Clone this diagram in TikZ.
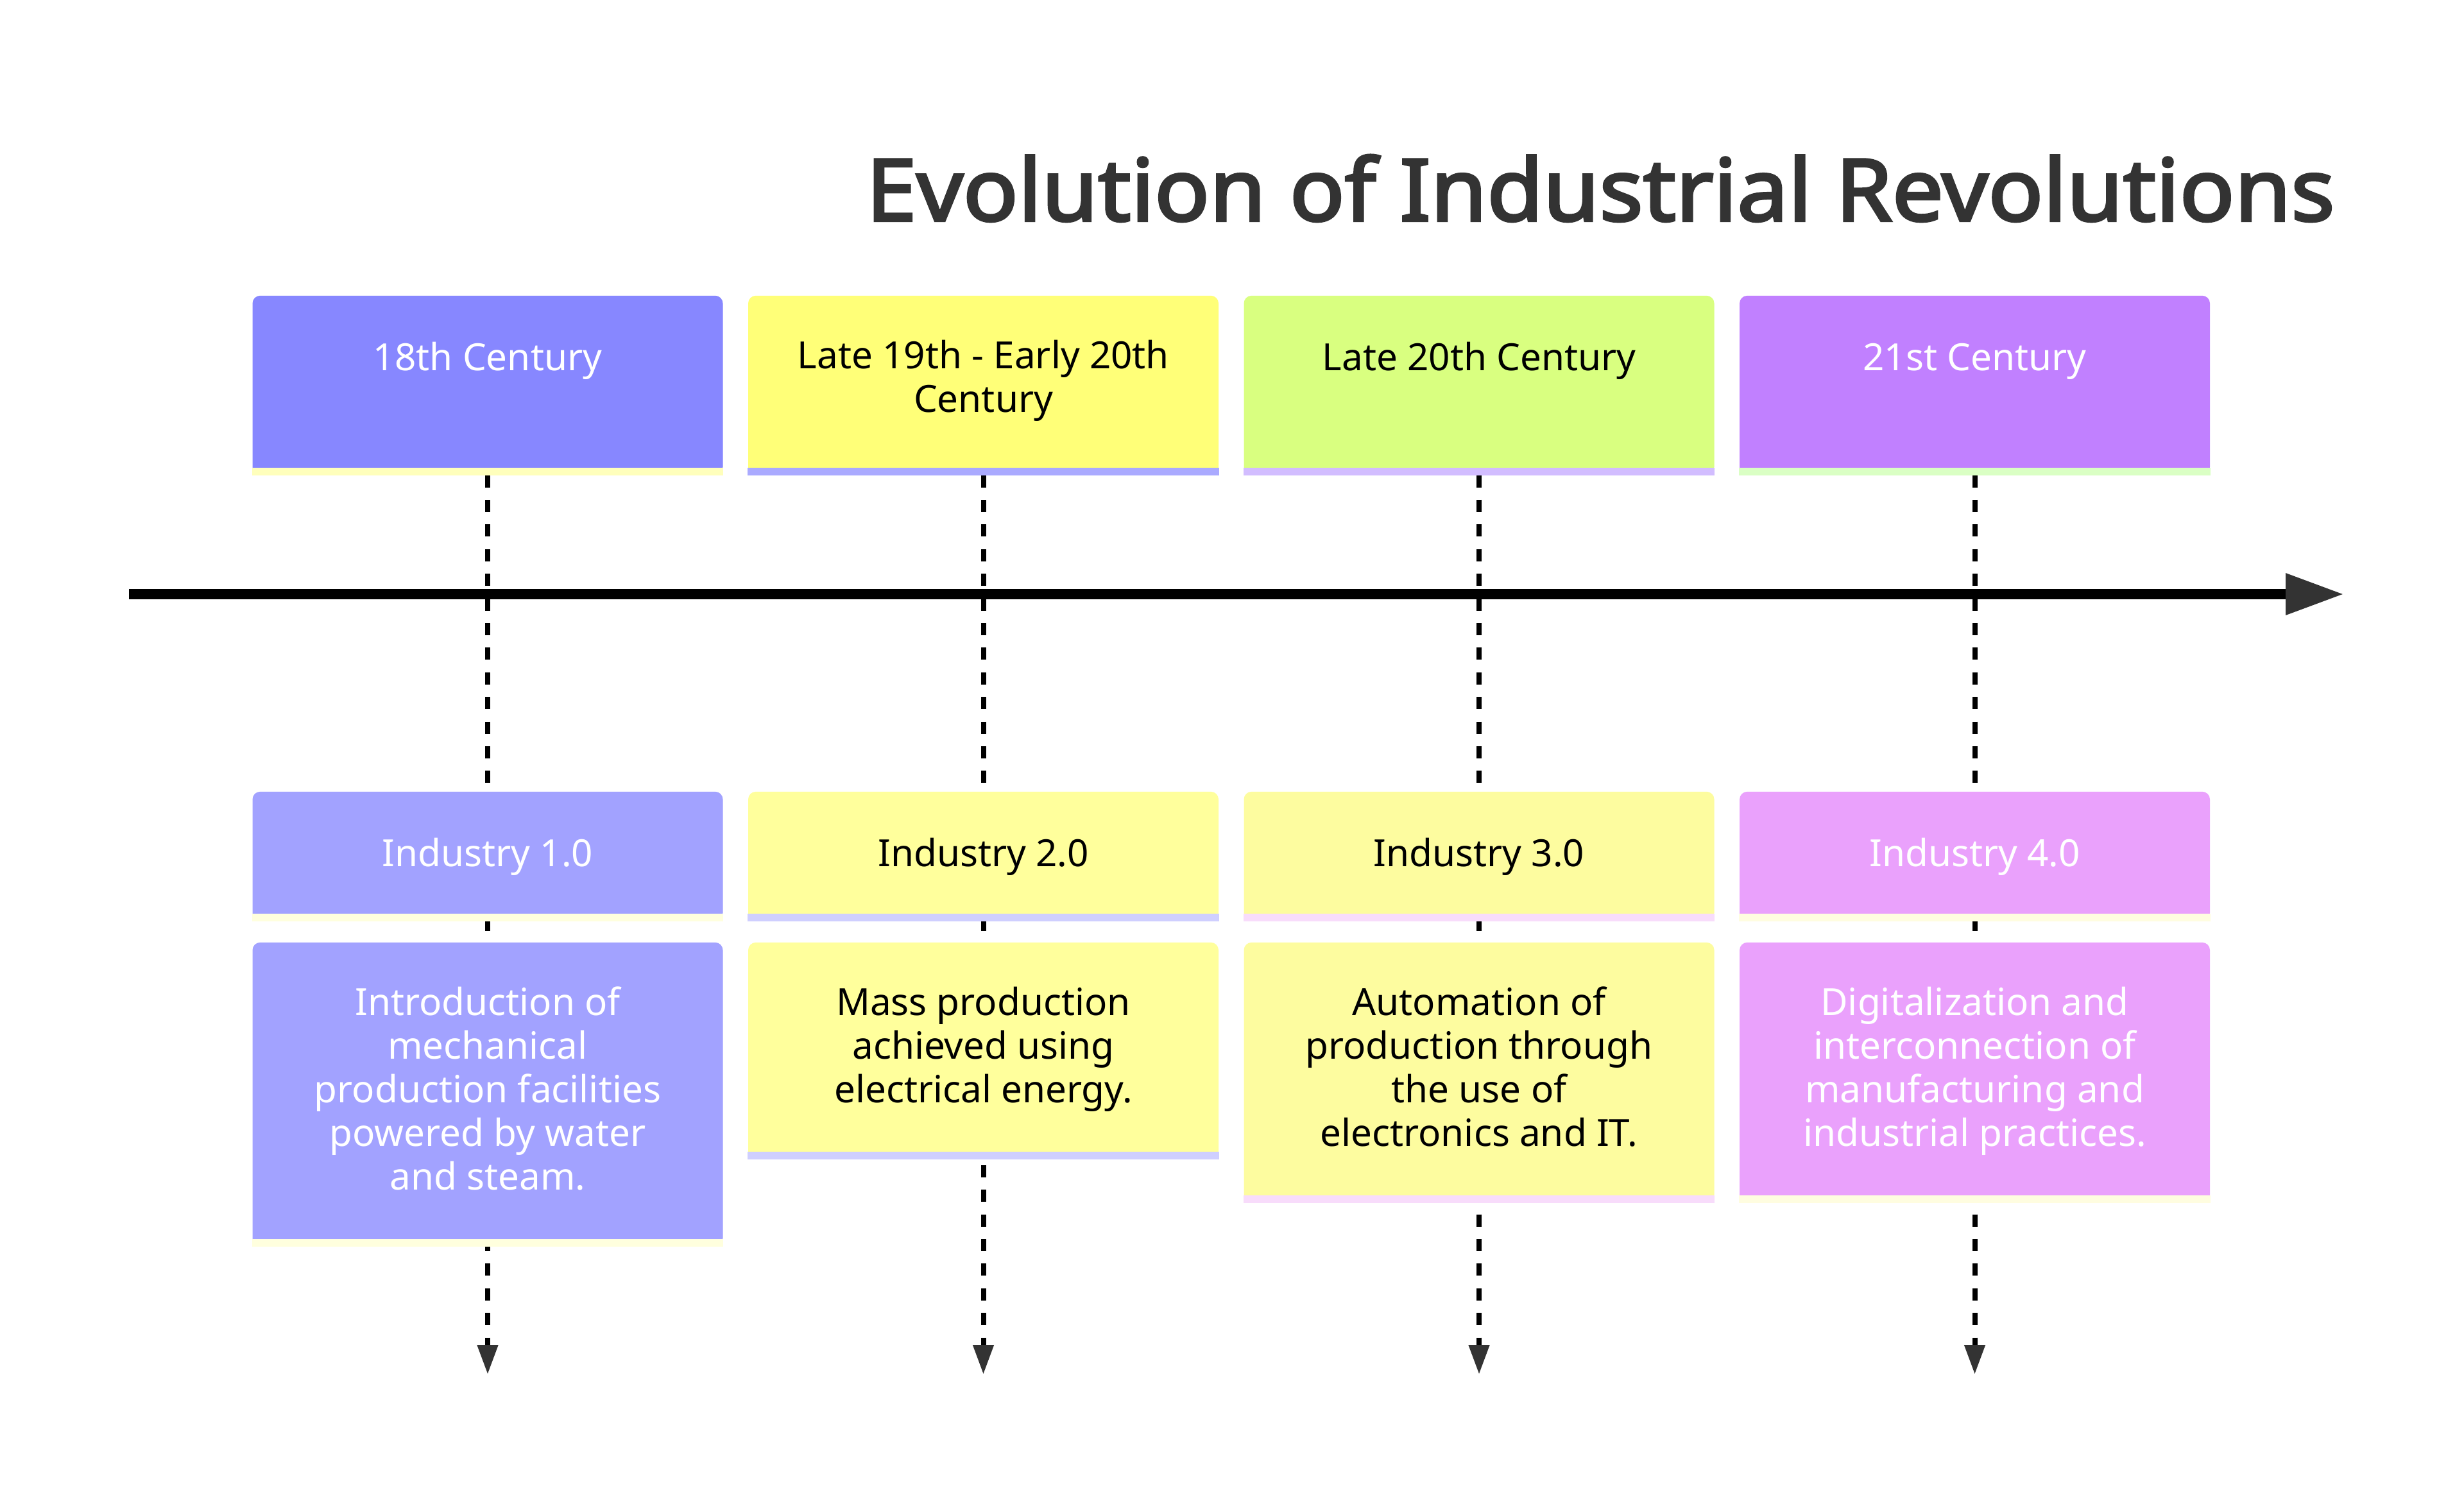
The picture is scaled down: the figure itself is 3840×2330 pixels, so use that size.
\documentclass[tikz,border=0pt]{standalone}
\usepackage{fontspec}
\setmainfont{Noto Sans}
\newfontfamily\titlefont{Noto Sans}[FakeBold=3,FakeStretch=1.06]
\usetikzlibrary{positioning,arrows.meta,backgrounds}
\definecolor{ink}{HTML}{333333}
\definecolor{c1}{HTML}{8787FF}\definecolor{c1s}{HTML}{FFFFBC}
\definecolor{c1e}{HTML}{A2A2FF}\definecolor{c1es}{HTML}{FFFFDE}
\definecolor{c2}{HTML}{FFFF78}\definecolor{c2s}{HTML}{AAAAFF}
\definecolor{c2e}{HTML}{FFFF9C}\definecolor{c2es}{HTML}{CFCFFF}
\definecolor{c3}{HTML}{D9FF80}\definecolor{c3s}{HTML}{D2BDFF}
\definecolor{c3e}{HTML}{FDFC9F}\definecolor{c3es}{HTML}{F8DCFB}
\definecolor{c4}{HTML}{C180FF}\definecolor{c4s}{HTML}{DAFFC4}
\definecolor{c4e}{HTML}{EAA1FC}\definecolor{c4es}{HTML}{FFFDE0}
\begin{document}
\begin{tikzpicture}[x=0.25pt,y=0.25pt,
box/.style={rectangle,rounded corners=3pt,minimum width=183.25pt,inner sep=0,anchor=north},
boxtext/.style={inner sep=0,align=center,font=\fontsize{14.6pt}{17pt}\selectfont,
  execute at begin node={\rule{0pt}{12pt}}},
title/.style={anchor=base,text=ink,font=\fontsize{33.5pt}{40pt}\titlefont},
timeline/.style={line width=4pt,-{Triangle[length=22.75pt,width=15.25pt,color=ink]}},
dashconn/.style={line width=2pt,dash pattern=on 4.75pt off 4.85pt,
  -{Triangle[length=11.5pt,width=7.75pt,color=ink]}}
]
\useasboundingbox(0,0)rectangle(3840,-2330);
\node[title]at(2494,-344)(title){Evolution of Industrial Revolutions};

% 18th century
\begin{scope}[shift={(760,0)}]
\node[box,fill=c1,minimum height=69.75pt]at(0,-460)(p1){};
\fill[c1s]([yshift=3pt]p1.south west)rectangle(p1.south east);
\node[boxtext,text=white,below=17.25pt of p1.north](p1t){18th Century};
\node[box,fill=c1e,minimum height=50.25pt]at(0,-1233)(i1){};
\fill[c1es]([yshift=3pt]i1.south west)rectangle(i1.south east);
\node[boxtext,text=white,below=17.25pt of i1.north](i1t){Industry 1.0};
\node[box,fill=c1e,minimum height=118.25pt]at(0,-1468)(d1){};
\fill[c1es]([yshift=3pt]d1.south west)rectangle(d1.south east);
\node[boxtext,text=white,below=17.25pt of d1.north](d1t){Introduction of\\mechanical\\production facilities\\powered by water\\and steam.};
\coordinate(e1)at(0,-2142);
\end{scope}

% late 19th - early 20th
\begin{scope}[shift={(1532.5,0)}]
\node[box,fill=c2,minimum height=69.75pt]at(0,-460)(p2){};
\fill[c2s]([yshift=3pt]p2.south west)rectangle(p2.south east);
\node[boxtext,below=17.25pt of p2.north](p2t){Late 19th - Early 20th\\Century};
\node[box,fill=c2e,minimum height=50.25pt]at(0,-1233)(i2){};
\fill[c2es]([yshift=3pt]i2.south west)rectangle(i2.south east);
\node[boxtext,below=17.25pt of i2.north](i2t){Industry 2.0};
\node[box,fill=c2e,minimum height=84.25pt]at(0,-1468)(d2){};
\fill[c2es]([yshift=3pt]d2.south west)rectangle(d2.south east);
\node[boxtext,below=17.25pt of d2.north](d2t){Mass production\\achieved using\\electrical energy.};
\coordinate(e2)at(0,-2142);
\end{scope}

% late 20th
\begin{scope}[shift={(2305,0)}]
\node[box,fill=c3,minimum height=69.75pt]at(0,-460)(p3){};
\fill[c3s]([yshift=3pt]p3.south west)rectangle(p3.south east);
\node[boxtext,below=17.25pt of p3.north](p3t){Late 20th Century};
\node[box,fill=c3e,minimum height=50.25pt]at(0,-1233)(i3){};
\fill[c3es]([yshift=3pt]i3.south west)rectangle(i3.south east);
\node[boxtext,below=17.25pt of i3.north](i3t){Industry 3.0};
\node[box,fill=c3e,minimum height=101.25pt]at(0,-1468)(d3){};
\fill[c3es]([yshift=3pt]d3.south west)rectangle(d3.south east);
\node[boxtext,below=17.25pt of d3.north](d3t){Automation of\\production through\\the use of\\electronics and IT.};
\coordinate(e3)at(0,-2142);
\end{scope}

% 21st
\begin{scope}[shift={(3077.5,0)}]
\node[box,fill=c4,minimum height=69.75pt]at(0,-460)(p4){};
\fill[c4s]([yshift=3pt]p4.south west)rectangle(p4.south east);
\node[boxtext,text=white,below=17.25pt of p4.north](p4t){21st Century};
\node[box,fill=c4e,minimum height=50.25pt]at(0,-1233)(i4){};
\fill[c4es]([yshift=3pt]i4.south west)rectangle(i4.south east);
\node[boxtext,text=white,below=17.25pt of i4.north](i4t){Industry 4.0};
\node[box,fill=c4e,minimum height=101.25pt]at(0,-1468)(d4){};
\fill[c4es]([yshift=3pt]d4.south west)rectangle(d4.south east);
\node[boxtext,text=white,below=17.25pt of d4.north](d4t){Digitalization and\\interconnection of\\manufacturing and\\industrial practices.};
\coordinate(e4)at(0,-2142);
\end{scope}

\begin{scope}[on background layer]
\draw[dashconn](p1)--(e1);
\draw[dashconn](p2)--(e2);
\draw[dashconn](p3)--(e3);
\draw[dashconn](p4)--(e4);
\end{scope}

\coordinate(t0)at(201,-926);
\coordinate(t1)at(3653,-926);
\draw[timeline](t0)--(t1);
\end{tikzpicture}
\end{document}
